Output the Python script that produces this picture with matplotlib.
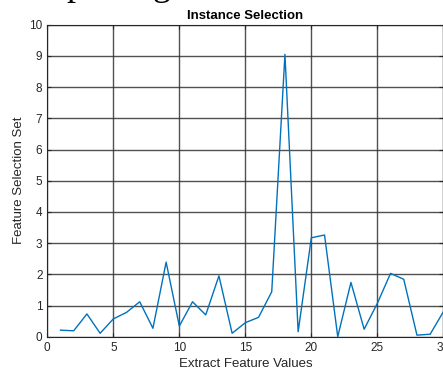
import matplotlib
matplotlib.use("Agg")
import matplotlib.pyplot as plt

# values
x_vals = list(range(1, 31))
y_vals = [0.21, 0.19, 0.73, 0.11, 0.57, 0.78, 1.12, 0.27, 2.39, 0.34,
          1.12, 0.70, 1.95, 0.11, 0.45, 0.62, 1.44, 9.05, 0.16, 3.17,
          3.26, 0.00, 1.74, 0.24, 1.07, 2.03, 1.84, 0.05, 0.08, 0.80]
x_ticks = [0, 5, 10, 15, 20, 25, 30]
y_ticks = list(range(0, 11))

plt.rcParams['font.family'] = ['Liberation Sans', 'DejaVu Sans']

fig = plt.figure(figsize=(4.43, 3.76), dpi=100)
ax = fig.add_axes([0.1068, 0.1045, 0.894, 0.8298])

ax.plot(x_vals, y_vals, color='#0072BD', linewidth=1.0)

ax.set_xlim(0, 30)
ax.set_ylim(0, 10)
ax.set_xticks(x_ticks)
ax.set_yticks(y_ticks)
ax.tick_params(direction='in', length=3, labelsize=8.5, colors='#262626',
               top=True, right=True)
ax.grid(True, color='#333333', linewidth=1.0, alpha=0.85)
for s in ax.spines.values():
    s.set_color('#262626')
    s.set_linewidth(0.8)

ax.set_xlabel('Extract Feature Values', fontsize=9.5, color='#262626', labelpad=3)
ax.set_ylabel('Feature Selection Set', fontsize=9.5, color='#262626', labelpad=3)
ax.set_title('Instance Selection', fontsize=9.5, fontweight='bold', pad=4)

# bits of the cropped document heading above the chart (only descenders show)
fig.text(0.150, 1.012, 'p', fontsize=26, family='Liberation Serif', va='baseline')
fig.text(0.345, 1.012, 'g', fontsize=26, family='Liberation Serif', va='baseline')

fig.savefig('out.png', dpi=100)
